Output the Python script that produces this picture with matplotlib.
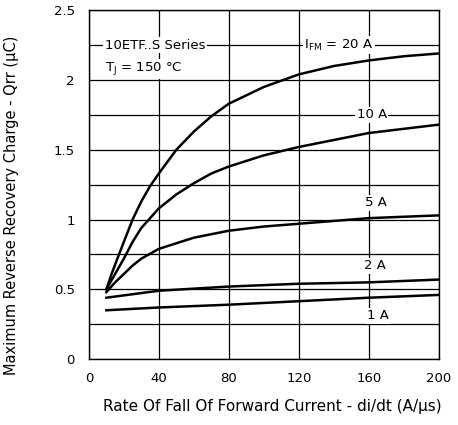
import numpy as np
import matplotlib
matplotlib.use('Agg')
import matplotlib.pyplot as plt
from matplotlib.ticker import FormatStrFormatter, MultipleLocator

# Daten
x_20a = [10, 13, 16, 20, 25, 30, 35, 40, 50, 60, 70, 80, 100, 120, 140, 160, 180, 200]
q_20a = [0.50, 0.61, 0.71, 0.84, 1.00, 1.13, 1.24, 1.33, 1.50, 1.63, 1.74, 1.83, 1.95, 2.04, 2.10, 2.14, 2.17, 2.19]

x_10a = [10, 15, 20, 25, 30, 40, 50, 60, 70, 80, 100, 120, 140, 160, 180, 200]
q_10a = [0.50, 0.61, 0.72, 0.84, 0.94, 1.08, 1.18, 1.26, 1.33, 1.38, 1.46, 1.52, 1.57, 1.62, 1.65, 1.68]

x_5a = [10, 15, 20, 25, 30, 40, 50, 60, 80, 100, 120, 140, 160, 180, 200]
q_5a = [0.48, 0.55, 0.61, 0.67, 0.72, 0.79, 0.83, 0.87, 0.92, 0.95, 0.97, 0.99, 1.01, 1.02, 1.03]

x_2a = [10, 40, 80, 120, 160, 200]
q_2a = [0.44, 0.49, 0.52, 0.54, 0.55, 0.57]

x_1a = [10, 40, 80, 120, 160, 200]
q_1a = [0.35, 0.37, 0.39, 0.415, 0.44, 0.46]

fig = plt.figure(figsize=(4.58, 4.25), dpi=100)
ax = fig.add_axes([0.194, 0.155, 0.764, 0.821])

for xs, qs in [(x_20a, q_20a), (x_10a, q_10a), (x_5a, q_5a), (x_2a, q_2a), (x_1a, q_1a)]:
    ax.plot(xs, qs, color='black', lw=1.8, zorder=3, solid_joinstyle='round')

ax.set_xlim(0, 200)
ax.set_ylim(0, 2.5)
ax.xaxis.set_major_locator(MultipleLocator(40))
ax.yaxis.set_major_locator(MultipleLocator(0.5))
ax.yaxis.set_minor_locator(MultipleLocator(0.25))
ax.yaxis.set_major_formatter(FormatStrFormatter('%g'))
ax.grid(True, which='both', color='black', lw=0.9)
ax.tick_params(which='both', length=0, labelsize=9.5)
ax.tick_params(axis='x', pad=9)
ax.tick_params(axis='y', pad=10)
for s in ax.spines.values():
    s.set_linewidth(1.0)

ax.set_xlabel('Rate Of Fall Of Forward Current - di/dt (A/µs)', fontsize=11)
ax.set_ylabel('Maximum Reverse Recovery Charge - Qrr (µC)', fontsize=10.5)
ax.xaxis.set_label_coords(0.523, -0.115)
ax.yaxis.set_label_coords(-0.2, 0.44)

box = dict(facecolor='white', edgecolor='none', pad=1)
ax.text(9, 2.25, '10ETF..S Series', fontsize=9.5, va='center', bbox=box, zorder=4)
ax.text(9, 2.08, r'T$_{\mathrm{J}}$ = 150 °C', fontsize=9.5, va='center', bbox=box, zorder=4)
ax.text(123, 2.25, r'I$_{\mathrm{FM}}$ = 20 A', fontsize=9.5, va='center', bbox=box, zorder=4)
ax.text(153, 1.75, '10 A', fontsize=9.5, va='center', bbox=box, zorder=4)
ax.text(158, 1.12, '5 A', fontsize=9.5, va='center', bbox=box, zorder=4)
ax.text(157, 0.67, '2 A', fontsize=9.5, va='center', bbox=box, zorder=4)
ax.text(159, 0.31, '1 A', fontsize=9.5, va='center', bbox=box, zorder=4)

fig.savefig('out.png', dpi=100)
